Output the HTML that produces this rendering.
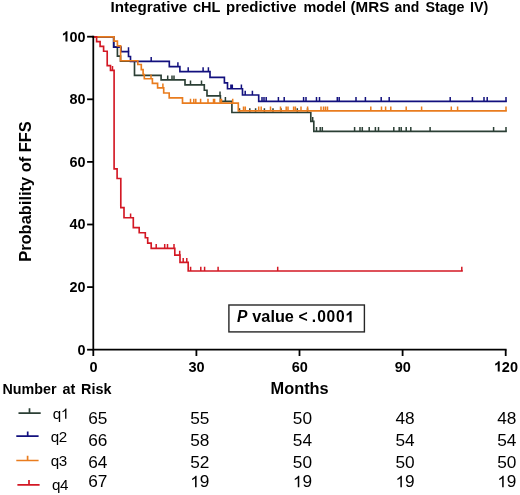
<!DOCTYPE html>
<html><head><meta charset="utf-8"><style>
html,body{margin:0;padding:0;background:#fff;}
svg{display:block;will-change:transform;filter:blur(0.3px);}
text{font-family:"Liberation Sans", sans-serif;fill:#000;}
</style></head><body>
<svg width="520" height="495" viewBox="0 0 520 495">
<rect width="520" height="495" fill="#fff"/>
<text x="110.50" y="12.40" font-size="14.00" font-weight="bold" textLength="76.80" lengthAdjust="spacingAndGlyphs">Integrative</text>
<text x="193.00" y="12.40" font-size="14.00" font-weight="bold" textLength="27.40" lengthAdjust="spacingAndGlyphs">cHL</text>
<text x="226.00" y="12.40" font-size="14.00" font-weight="bold" textLength="70.60" lengthAdjust="spacingAndGlyphs">predictive</text>
<text x="303.50" y="12.40" font-size="14.00" font-weight="bold" textLength="42.40" lengthAdjust="spacingAndGlyphs">model</text>
<text x="350.50" y="12.40" font-size="14.00" font-weight="bold" textLength="38.80" lengthAdjust="spacingAndGlyphs">(MRS</text>
<text x="394.50" y="12.40" font-size="14.00" font-weight="bold" textLength="24.80" lengthAdjust="spacingAndGlyphs">and</text>
<text x="425.50" y="12.40" font-size="14.00" font-weight="bold" textLength="39.00" lengthAdjust="spacingAndGlyphs">Stage</text>
<text x="470.00" y="12.40" font-size="14.00" font-weight="bold" textLength="18.20" lengthAdjust="spacingAndGlyphs">IV)</text>
<text transform="translate(31.0,261.8) rotate(-90)" font-size="16.8" font-weight="bold" textLength="140.6" lengthAdjust="spacingAndGlyphs">Probability of FFS</text>

<path d="M93.0 36.8 L113.7 36.8 L113.7 47.1 L117.4 47.1 L117.4 56.1 L120.5 56.1 L120.5 61.1 L134.5 61.1 L134.5 75.3 L161.1 75.3 L161.1 79.9 L185.0 79.9 L185.0 84.9 L204.3 84.9 L204.3 90.2 L207.0 90.2 L207.0 95.9 L220.4 95.9 L220.4 101.3 L231.9 101.3 L231.9 112.5 L310.8 112.5 L310.8 121.3 L313.8 121.3 L313.8 131.4 L506.0 131.4" stroke="#2b3f35" stroke-width="1.65" fill="none" stroke-linejoin="miter" stroke-linecap="square"/>
<path d="M167.7 79.9 V75.6 M172.0 79.9 V75.6 M174.0 79.9 V75.6 M190.5 84.9 V80.6 M201.5 84.9 V80.6 M220.0 95.9 V91.6 M225.4 101.3 V97.0 M239.5 112.5 V108.2 M249.8 112.5 V108.2 M255.6 112.5 V108.2 M264.4 112.5 V108.2 M273.0 112.5 V108.2 M281.0 112.5 V108.2 M297.3 112.5 V108.2 M307.5 112.5 V108.2 M312.7 121.3 V117.0 M316.5 131.4 V127.1 M320.2 131.4 V127.1 M322.3 131.4 V127.1 M354.6 131.4 V127.1 M360.0 131.4 V127.1 M362.3 131.4 V127.1 M369.2 131.4 V127.1 M375.4 131.4 V127.1 M378.5 131.4 V127.1 M393.8 131.4 V127.1 M399.2 131.4 V127.1 M401.2 131.4 V127.1 M406.2 131.4 V127.1 M410.8 131.4 V127.1 M430.1 131.4 V127.1 M493.6 131.4 V127.1 M506.0 131.4 V127.1" stroke="#2b3f35" stroke-width="1.5" fill="none"/>
<path d="M93.0 36.8 L113.7 36.8 L113.7 47.1 L121.0 47.1 L121.0 51.6 L128.5 51.6 L128.5 56.5 L130.5 56.5 L130.5 61.4 L169.3 61.4 L169.3 66.6 L179.9 66.6 L179.9 71.6 L210.0 71.6 L210.0 77.3 L224.4 77.3 L224.4 82.9 L227.5 82.9 L227.5 88.7 L242.5 88.7 L242.5 95.0 L258.7 95.0 L258.7 101.4 L506.0 101.4" stroke="#12107e" stroke-width="1.65" fill="none" stroke-linejoin="miter" stroke-linecap="square"/>
<path d="M128.5 51.6 V47.3 M151.2 61.4 V57.1 M177.9 66.6 V62.3 M188.2 71.6 V67.3 M203.1 71.6 V67.3 M208.4 71.6 V67.3 M230.9 88.7 V84.4 M232.3 88.7 V84.4 M241.4 88.7 V84.4 M245.2 95.0 V90.7 M252.4 95.0 V90.7 M262.0 101.4 V97.1 M264.0 101.4 V97.1 M266.2 101.4 V97.1 M278.4 101.4 V97.1 M284.2 101.4 V97.1 M303.6 101.4 V97.1 M306.0 101.4 V97.1 M316.5 101.4 V97.1 M319.5 101.4 V97.1 M337.3 101.4 V97.1 M339.2 101.4 V97.1 M356.0 101.4 V97.1 M365.4 101.4 V97.1 M381.2 101.4 V97.1 M389.2 101.4 V97.1 M450.2 101.4 V97.1 M472.4 101.4 V97.1 M484.0 101.4 V97.1 M487.2 101.4 V97.1 M506.0 101.4 V97.1" stroke="#12107e" stroke-width="1.5" fill="none"/>
<path d="M93.0 36.8 L114.0 36.8 L114.0 41.1 L117.4 41.1 L117.4 45.9 L120.6 45.9 L120.6 60.7 L137.8 60.7 L137.8 64.5 L141.3 64.5 L141.3 69.6 L143.1 69.6 L143.1 74.5 L144.3 74.5 L144.3 78.7 L152.4 78.7 L152.4 83.3 L157.6 83.3 L157.6 87.8 L163.7 87.8 L163.7 93.0 L169.2 93.0 L169.2 97.8 L182.5 97.8 L182.5 103.1 L238.3 103.1 L238.3 110.8 L506.0 110.8" stroke="#e97c1e" stroke-width="1.65" fill="none" stroke-linejoin="miter" stroke-linecap="square"/>
<path d="M151.0 78.7 V74.4 M162.9 87.8 V83.5 M190.5 103.1 V98.8 M193.8 103.1 V98.8 M195.8 103.1 V98.8 M200.6 103.1 V98.8 M208.0 103.1 V98.8 M213.5 103.1 V98.8 M214.6 103.1 V98.8 M220.4 103.1 V98.8 M221.5 103.1 V98.8 M232.7 103.1 V98.8 M243.5 110.8 V106.5 M245.3 110.8 V106.5 M258.7 110.8 V106.5 M261.2 110.8 V106.5 M270.5 110.8 V106.5 M280.5 110.8 V106.5 M286.2 110.8 V106.5 M288.0 110.8 V106.5 M293.6 110.8 V106.5 M295.4 110.8 V106.5 M301.0 110.8 V106.5 M307.6 110.8 V106.5 M321.0 110.8 V106.5 M323.5 110.8 V106.5 M325.5 110.8 V106.5 M327.5 110.8 V106.5 M370.8 110.8 V106.5 M381.5 110.8 V106.5 M385.6 110.8 V106.5 M390.8 110.8 V106.5 M406.2 110.8 V106.5 M421.6 110.8 V106.5 M451.3 110.8 V106.5 M457.6 110.8 V106.5 M506.0 110.8 V106.5" stroke="#e97c1e" stroke-width="1.5" fill="none"/>
<path d="M93.0 36.8 L96.6 36.8 L96.6 41.6 L100.1 41.6 L100.1 46.4 L103.6 46.4 L103.6 51.2 L107.2 51.2 L107.2 65.6 L110.5 65.6 L110.5 70.3 L114.1 70.3 L114.1 168.8 L117.1 168.8 L117.1 178.5 L120.8 178.5 L120.8 207.6 L124.0 207.6 L124.0 217.7 L133.3 217.7 L133.3 227.6 L139.2 227.6 L139.2 232.7 L145.3 232.7 L145.3 237.7 L147.7 237.7 L147.7 243.1 L151.2 243.1 L151.2 248.3 L174.8 248.3 L174.8 255.1 L180.0 255.1 L180.0 262.3 L188.2 262.3 L188.2 271.0 L462.0 271.0" stroke="#d31824" stroke-width="1.65" fill="none" stroke-linejoin="miter" stroke-linecap="square"/>
<path d="M112.5 70.3 V66.0 M130.6 217.7 V213.4 M156.2 248.3 V244.0 M164.7 248.3 V244.0 M167.5 248.3 V244.0 M174.0 248.3 V244.0 M179.7 255.1 V250.8 M183.2 262.3 V258.0 M186.8 262.3 V258.0 M190.6 271.0 V266.7 M200.8 271.0 V266.7 M204.6 271.0 V266.7 M218.1 271.0 V266.7 M277.7 271.0 V266.7 M461.8 271.0 V266.7" stroke="#d31824" stroke-width="1.5" fill="none"/>
<path d="M93.3 35.8 V349.7 H506.6" stroke="#000" stroke-width="1.75" fill="none" stroke-linecap="butt"/>
<path d="M87.1 349.7 H93.3" stroke="#000" stroke-width="1.8"/>
<text x="77.60" y="354.50" font-size="14.40" font-weight="bold">0</text>
<path d="M87.1 287.1 H93.3" stroke="#000" stroke-width="1.8"/>
<text x="69.60" y="291.90" font-size="14.40" font-weight="bold">2</text>
<text x="77.60" y="291.90" font-size="14.40" font-weight="bold">0</text>
<path d="M87.1 224.5 H93.3" stroke="#000" stroke-width="1.8"/>
<text x="69.60" y="229.30" font-size="14.40" font-weight="bold">4</text>
<text x="77.60" y="229.30" font-size="14.40" font-weight="bold">0</text>
<path d="M87.1 161.9 H93.3" stroke="#000" stroke-width="1.8"/>
<text x="69.60" y="166.70" font-size="14.40" font-weight="bold">6</text>
<text x="77.60" y="166.70" font-size="14.40" font-weight="bold">0</text>
<path d="M87.1 99.3 H93.3" stroke="#000" stroke-width="1.8"/>
<text x="69.60" y="104.10" font-size="14.40" font-weight="bold">8</text>
<text x="77.60" y="104.10" font-size="14.40" font-weight="bold">0</text>
<path d="M87.1 36.7 H93.3" stroke="#000" stroke-width="1.8"/>
<path d="M834 0H553V1059C450 963 329 891 190 845V1100C263 1124 343 1169 429 1236C515 1303 574 1381 606 1472H834Z" transform="translate(61.60 41.50) scale(0.00703 -0.00703)"/>
<text x="69.60" y="41.50" font-size="14.40" font-weight="bold">0</text>
<text x="77.60" y="41.50" font-size="14.40" font-weight="bold">0</text>
<path d="M93.3 349.7 V356" stroke="#000" stroke-width="1.8"/>
<text x="89.47" y="371.60" font-size="14.50" font-weight="bold">0</text>
<path d="M196.4 349.7 V356" stroke="#000" stroke-width="1.8"/>
<text x="188.54" y="371.60" font-size="14.50" font-weight="bold">3</text>
<text x="196.59" y="371.60" font-size="14.50" font-weight="bold">0</text>
<path d="M299.5 349.7 V356" stroke="#000" stroke-width="1.8"/>
<text x="291.64" y="371.60" font-size="14.50" font-weight="bold">6</text>
<text x="299.69" y="371.60" font-size="14.50" font-weight="bold">0</text>
<path d="M402.6 349.7 V356" stroke="#000" stroke-width="1.8"/>
<text x="394.74" y="371.60" font-size="14.50" font-weight="bold">9</text>
<text x="402.79" y="371.60" font-size="14.50" font-weight="bold">0</text>
<path d="M505.7 349.7 V356" stroke="#000" stroke-width="1.8"/>
<path d="M834 0H553V1059C450 963 329 891 190 845V1100C263 1124 343 1169 429 1236C515 1303 574 1381 606 1472H834Z" transform="translate(493.82 371.60) scale(0.00708 -0.00708)"/>
<text x="501.87" y="371.60" font-size="14.50" font-weight="bold">2</text>
<text x="509.92" y="371.60" font-size="14.50" font-weight="bold">0</text>

<text x="270.50" y="393.50" font-size="15.80" font-weight="bold" textLength="58.20" lengthAdjust="spacingAndGlyphs">Months</text>
<text x="2.50" y="393.90" font-size="14.00" font-weight="bold" textLength="54.00" lengthAdjust="spacingAndGlyphs">Number</text>
<text x="62.50" y="393.90" font-size="14.00" font-weight="bold" textLength="12.80" lengthAdjust="spacingAndGlyphs">at</text>
<text x="81.00" y="393.90" font-size="14.00" font-weight="bold" textLength="30.40" lengthAdjust="spacingAndGlyphs">Risk</text>
<rect x="228.9" y="305.0" width="135.5" height="26.9" fill="#fff" stroke="#262626" stroke-width="1.4"/>
<text x="237.10" y="322.20" font-size="16.00" font-weight="bold" font-style="italic" textLength="10.40" lengthAdjust="spacingAndGlyphs">P</text>
<text x="252.30" y="322.20" font-size="15.60" font-weight="bold" textLength="41.60" lengthAdjust="spacingAndGlyphs">value</text>
<text x="298.40" y="322.20" font-size="15.60" font-weight="bold" textLength="9.20" lengthAdjust="spacingAndGlyphs">&lt;</text>
<text x="311.7" y="322.2" font-size="15.6" font-weight="bold">.</text>
<text x="317.31" y="322.20" font-size="15.60" font-weight="bold">0</text>
<text x="326.61" y="322.20" font-size="15.60" font-weight="bold">0</text>
<text x="335.91" y="322.20" font-size="15.60" font-weight="bold">0</text>
<path d="M834 0H553V1059C450 963 329 891 190 845V1100C263 1124 343 1169 429 1236C515 1303 574 1381 606 1472H834Z" transform="translate(345.21 322.20) scale(0.00762 -0.00762)"/>

<path d="M18.5 413.1 H40.7 M29.5 413.1 V408.3" stroke="#2b3f35" stroke-width="1.7" fill="none"/>
<text transform="translate(52.77 418.80) scale(1.070 1)" font-size="14.20">q</text>
<path d="M763 0H583V1147C540 1106 483 1064 413 1023C343 982 280 951 225 931V1105C324 1152 411 1208 485 1275C559 1342 611 1407 641 1472H763Z" transform="translate(60.77 418.80) scale(0.00742 -0.00693)"/>
<text transform="translate(88.24 423.50) scale(1.080 1)" font-size="16.00">6</text>
<text transform="translate(97.84 423.50) scale(1.080 1)" font-size="16.00">5</text>
<text transform="translate(190.14 423.50) scale(1.080 1)" font-size="16.00">5</text>
<text transform="translate(199.74 423.50) scale(1.080 1)" font-size="16.00">5</text>
<text transform="translate(292.84 423.50) scale(1.080 1)" font-size="16.00">5</text>
<text transform="translate(302.44 423.50) scale(1.080 1)" font-size="16.00">0</text>
<text transform="translate(395.44 423.50) scale(1.080 1)" font-size="16.00">4</text>
<text transform="translate(405.04 423.50) scale(1.080 1)" font-size="16.00">8</text>
<text transform="translate(497.24 423.50) scale(1.080 1)" font-size="16.00">4</text>
<text transform="translate(506.84 423.50) scale(1.080 1)" font-size="16.00">8</text>
<path d="M16.3 436.2 H38.6 M27.7 436.2 V431.4" stroke="#12107e" stroke-width="1.7" fill="none"/>
<text transform="translate(50.77 441.90) scale(1.070 1)" font-size="14.20">q</text>
<text transform="translate(58.77 441.90) scale(1.070 1)" font-size="14.20">2</text>
<text transform="translate(88.24 445.50) scale(1.080 1)" font-size="16.00">6</text>
<text transform="translate(97.84 445.50) scale(1.080 1)" font-size="16.00">6</text>
<text transform="translate(190.14 445.50) scale(1.080 1)" font-size="16.00">5</text>
<text transform="translate(199.74 445.50) scale(1.080 1)" font-size="16.00">8</text>
<text transform="translate(292.84 445.50) scale(1.080 1)" font-size="16.00">5</text>
<text transform="translate(302.44 445.50) scale(1.080 1)" font-size="16.00">4</text>
<text transform="translate(395.44 445.50) scale(1.080 1)" font-size="16.00">5</text>
<text transform="translate(405.04 445.50) scale(1.080 1)" font-size="16.00">4</text>
<text transform="translate(497.24 445.50) scale(1.080 1)" font-size="16.00">5</text>
<text transform="translate(506.84 445.50) scale(1.080 1)" font-size="16.00">4</text>
<path d="M16.3 460.5 H38.6 M27.6 460.5 V455.7" stroke="#e97c1e" stroke-width="1.7" fill="none"/>
<text transform="translate(50.77 465.80) scale(1.070 1)" font-size="14.20">q</text>
<text transform="translate(58.77 465.80) scale(1.070 1)" font-size="14.20">3</text>
<text transform="translate(88.24 467.50) scale(1.080 1)" font-size="16.00">6</text>
<text transform="translate(97.84 467.50) scale(1.080 1)" font-size="16.00">4</text>
<text transform="translate(190.14 467.50) scale(1.080 1)" font-size="16.00">5</text>
<text transform="translate(199.74 467.50) scale(1.080 1)" font-size="16.00">2</text>
<text transform="translate(292.84 467.50) scale(1.080 1)" font-size="16.00">5</text>
<text transform="translate(302.44 467.50) scale(1.080 1)" font-size="16.00">0</text>
<text transform="translate(395.44 467.50) scale(1.080 1)" font-size="16.00">5</text>
<text transform="translate(405.04 467.50) scale(1.080 1)" font-size="16.00">0</text>
<text transform="translate(497.24 467.50) scale(1.080 1)" font-size="16.00">5</text>
<text transform="translate(506.84 467.50) scale(1.080 1)" font-size="16.00">0</text>
<path d="M17.4 484.8 H39.6 M29.0 484.8 V480.0" stroke="#d31824" stroke-width="1.7" fill="none"/>
<text transform="translate(51.97 490.10) scale(1.070 1)" font-size="14.20">q</text>
<text transform="translate(59.97 490.10) scale(1.070 1)" font-size="14.20">4</text>
<text transform="translate(88.24 487.30) scale(1.080 1)" font-size="16.00">6</text>
<text transform="translate(97.84 487.30) scale(1.080 1)" font-size="16.00">7</text>
<path d="M763 0H583V1147C540 1106 483 1064 413 1023C343 982 280 951 225 931V1105C324 1152 411 1208 485 1275C559 1342 611 1407 641 1472H763Z" transform="translate(190.14 487.30) scale(0.00844 -0.00781)"/>
<text transform="translate(199.74 487.30) scale(1.080 1)" font-size="16.00">9</text>
<path d="M763 0H583V1147C540 1106 483 1064 413 1023C343 982 280 951 225 931V1105C324 1152 411 1208 485 1275C559 1342 611 1407 641 1472H763Z" transform="translate(292.84 487.30) scale(0.00844 -0.00781)"/>
<text transform="translate(302.44 487.30) scale(1.080 1)" font-size="16.00">9</text>
<path d="M763 0H583V1147C540 1106 483 1064 413 1023C343 982 280 951 225 931V1105C324 1152 411 1208 485 1275C559 1342 611 1407 641 1472H763Z" transform="translate(395.44 487.30) scale(0.00844 -0.00781)"/>
<text transform="translate(405.04 487.30) scale(1.080 1)" font-size="16.00">9</text>
<path d="M763 0H583V1147C540 1106 483 1064 413 1023C343 982 280 951 225 931V1105C324 1152 411 1208 485 1275C559 1342 611 1407 641 1472H763Z" transform="translate(497.24 487.30) scale(0.00844 -0.00781)"/>
<text transform="translate(506.84 487.30) scale(1.080 1)" font-size="16.00">9</text>
</svg>
</body></html>
